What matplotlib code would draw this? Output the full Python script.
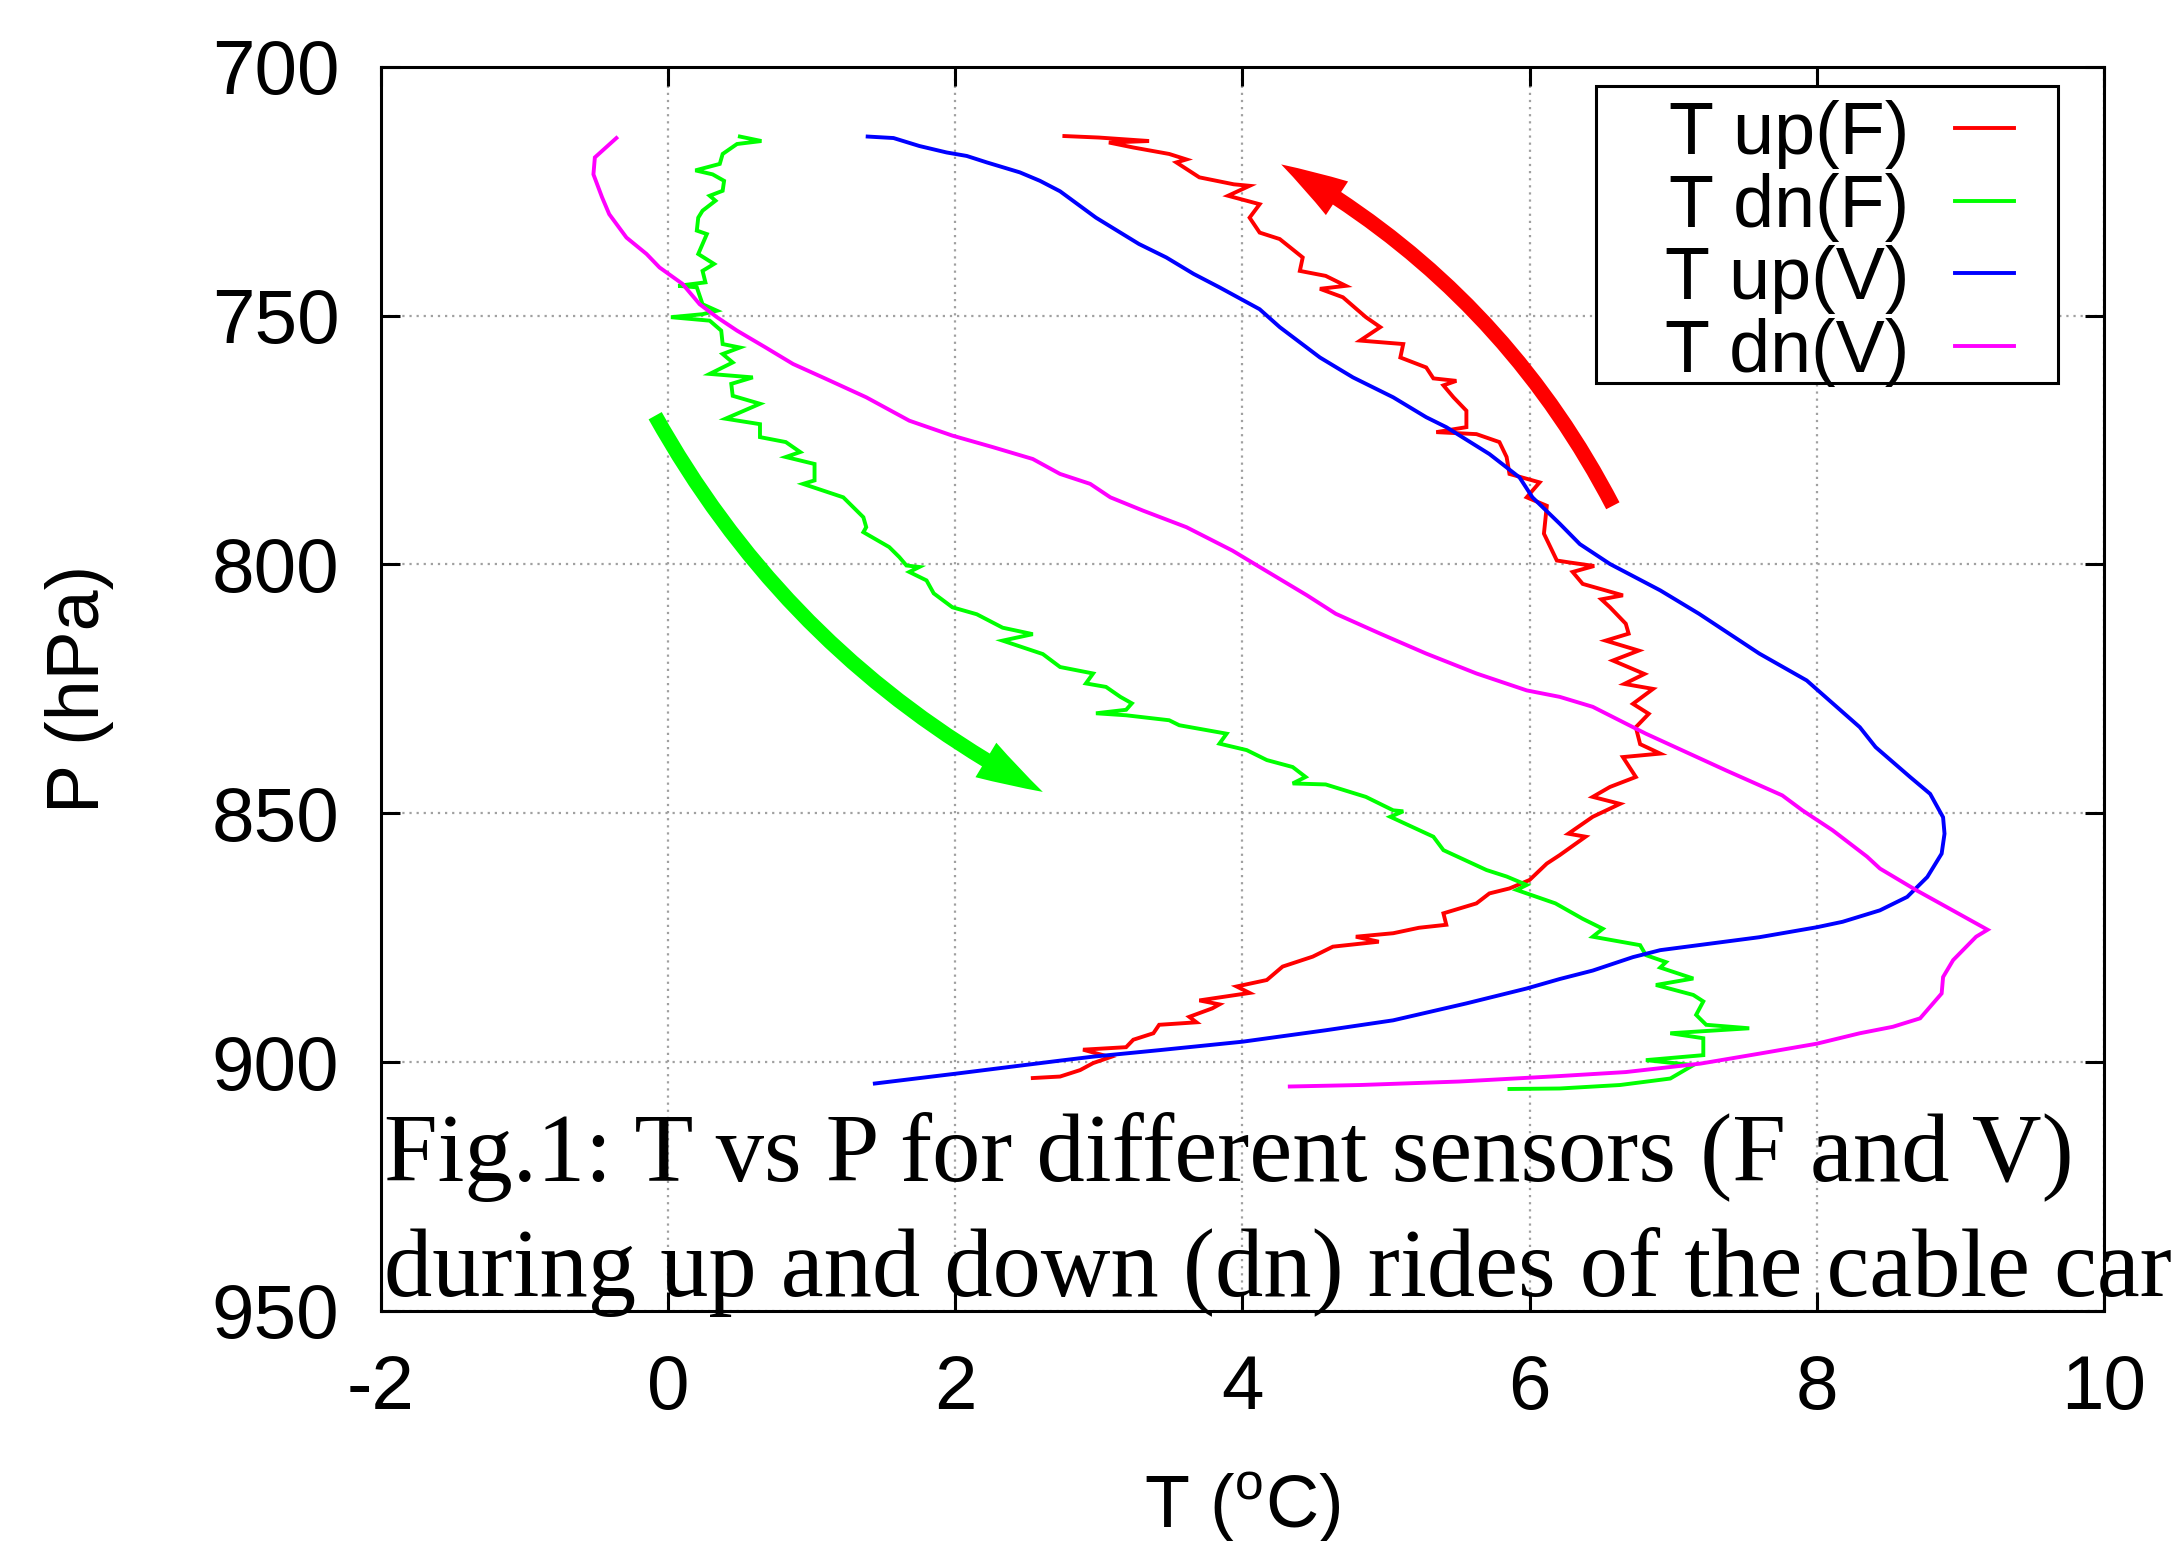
import matplotlib
matplotlib.use("Agg")
import matplotlib.pyplot as plt
from matplotlib.patches import FancyArrowPatch, ArrowStyle, Rectangle
from matplotlib.transforms import IdentityTransform
from matplotlib.font_manager import FontProperties

plt.rcParams['font.family'] = ['Liberation Sans', 'DejaVu Sans']
plt.rcParams['axes.unicode_minus'] = False
plt.rcParams['mathtext.fontset'] = 'custom'
plt.rcParams['mathtext.rm'] = 'Liberation Sans'

# =============================================================================
# DATA (temperature in degC, pressure in hPa)
# =============================================================================
t_up_f = [2.76, 3.00, 3.35, 3.07, 3.24, 3.49, 3.61, 3.54, 3.70, 3.94, 4.05, 3.90, 4.12, 4.05,
          4.12, 4.26, 4.42, 4.40, 4.58, 4.72, 4.54, 4.70, 4.86, 4.96, 4.82, 5.12, 5.10, 5.28,
          5.33, 5.49, 5.40, 5.47, 5.56, 5.56, 5.35, 5.63, 5.79, 5.84, 5.86, 6.07, 5.98, 6.12,
          6.10, 6.19, 6.28, 6.45, 6.30, 6.37, 6.65, 6.50, 6.56, 6.67, 6.69, 6.53, 6.76, 6.58,
          6.80, 6.66, 6.86, 6.72, 6.83, 6.74, 6.77, 6.91, 6.65, 6.74, 6.56, 6.44, 6.63, 6.44,
          6.27, 6.39, 6.21, 6.12, 6.00, 5.86, 5.72, 5.63, 5.40, 5.42, 5.23, 5.05, 4.79, 4.95,
          4.63, 4.49, 4.28, 4.17, 3.96, 4.05, 3.70, 3.84, 3.79, 3.63, 3.68, 3.42, 3.38, 3.24,
          3.19, 2.89, 3.08, 2.96, 2.87, 2.73, 2.54]
p_up_f = [713.9, 714.2, 714.9, 715.2, 716.2, 717.5, 718.6, 719.2, 722.2, 723.6, 723.9, 725.9,
          727.6, 730.3, 733.3, 734.6, 738.3, 741.0, 742.0, 744.0, 744.6, 746.3, 750.3, 752.3,
          755.0, 755.7, 758.4, 760.4, 762.6, 763.1, 764.0, 766.4, 769.1, 772.4, 773.4, 773.8,
          775.4, 778.4, 781.8, 783.5, 786.5, 788.2, 793.8, 799.2, 799.6, 800.3, 801.5, 803.9,
          806.2, 807.0, 808.6, 811.9, 813.9, 815.3, 817.3, 819.3, 822.0, 824.0, 825.0, 828.0,
          830.0, 832.7, 836.1, 838.0, 838.7, 842.7, 844.7, 846.7, 848.1, 850.7, 854.1, 854.7,
          858.4, 860.1, 863.4, 865.1, 866.1, 868.1, 870.1, 872.4, 873.0, 874.1, 874.8, 875.8,
          876.8, 878.8, 880.8, 883.5, 884.8, 886.1, 887.6, 888.4, 889.2, 890.9, 892.0, 892.5,
          894.2, 895.5, 897.0, 897.5, 899.0, 900.2, 901.6, 902.9, 903.2]

t_dn_f = [0.50, 0.65, 0.48, 0.38, 0.36, 0.19, 0.31, 0.39, 0.38, 0.29, 0.33, 0.24, 0.21, 0.20,
          0.27, 0.24, 0.21, 0.32, 0.24, 0.26, 0.07, 0.20, 0.24, 0.34, 0.24, 0.02, 0.29, 0.37,
          0.38, 0.50, 0.38, 0.45, 0.29, 0.59, 0.44, 0.45, 0.64, 0.40, 0.64, 0.64, 0.82, 0.92,
          0.82, 1.02, 1.02, 0.94, 1.22, 1.29, 1.36, 1.38, 1.36, 1.54, 1.61, 1.66, 1.75, 1.68,
          1.80, 1.85, 1.98, 2.15, 2.33, 2.54, 2.33, 2.61, 2.73, 2.96, 2.91, 3.05, 3.15, 3.23,
          3.19, 2.98, 3.19, 3.49, 3.56, 3.89, 3.84, 4.03, 4.17, 4.35, 4.44, 4.35, 4.58, 4.86,
          5.05, 5.12, 5.03, 5.33, 5.40, 5.70, 5.84, 5.98, 5.91, 6.18, 6.37, 6.51, 6.44, 6.77,
          6.81, 6.95, 6.91, 7.14, 6.88, 7.14, 7.21, 7.16, 7.23, 7.53, 6.98, 7.21, 7.21, 6.81,
          7.14, 6.98, 6.63, 6.21, 5.86]
p_dn_f = [714.0, 714.9, 715.5, 717.5, 719.5, 720.8, 721.6, 722.9, 724.9, 725.9, 726.9, 728.9,
          730.3, 732.9, 733.6, 735.6, 737.6, 739.6, 741.0, 743.3, 744.0, 744.3, 747.7, 749.0,
          749.7, 750.3, 751.0, 753.0, 755.7, 756.4, 757.7, 759.4, 761.7, 762.4, 763.7, 766.1,
          767.7, 770.7, 771.8, 774.4, 775.4, 777.4, 778.4, 779.8, 783.1, 783.8, 786.5, 788.5,
          790.5, 792.5, 793.5, 796.5, 798.5, 800.2, 800.5, 801.5, 803.2, 805.8, 808.6, 810.0,
          812.7, 814.0, 815.3, 818.0, 820.6, 821.9, 823.9, 824.6, 826.6, 827.9, 829.2, 829.9,
          830.3, 831.3, 832.3, 834.0, 836.0, 837.3, 839.3, 840.7, 842.7, 844.0, 844.2, 846.7,
          849.4, 849.6, 850.7, 854.7, 857.4, 861.4, 862.7, 864.4, 865.4, 868.1, 871.2, 873.2,
          874.8, 876.5, 878.5, 879.9, 881.0, 883.2, 884.5, 886.5, 887.8, 890.5, 892.5, 893.2,
          894.2, 895.2, 898.6, 899.6, 900.6, 903.3, 904.6, 905.3, 905.4]

t_up_v = [1.39, 1.57, 1.75, 1.94, 2.08, 2.22, 2.45, 2.59, 2.73, 2.98, 3.28, 3.47, 3.66, 3.84,
          4.12, 4.26, 4.54, 4.77, 5.05, 5.28, 5.42, 5.72, 5.93, 6.02, 6.21, 6.35, 6.56, 6.91,
          7.18, 7.60, 7.93, 8.30, 8.41, 8.65, 8.79, 8.88, 8.89, 8.87, 8.77, 8.63, 8.44, 8.18,
          8.00, 7.60, 6.91, 6.72, 6.44, 6.21, 5.98, 5.56, 5.05, 4.58, 4.00, 3.42, 2.96, 2.73,
          2.01, 1.44]
p_up_v = [714.0, 714.3, 715.9, 717.2, 717.9, 719.2, 721.2, 722.9, 725.0, 730.3, 735.6, 738.3,
          741.6, 744.3, 748.7, 752.3, 758.4, 762.4, 766.4, 770.4, 772.4, 777.8, 782.5, 786.5,
          791.8, 795.9, 799.9, 805.2, 809.9, 817.9, 823.3, 832.7, 836.7, 842.7, 846.1, 850.8,
          854.1, 858.1, 862.8, 866.8, 869.5, 871.8, 872.9, 874.9, 877.5, 878.9, 881.6, 883.3,
          885.2, 888.2, 891.6, 893.6, 895.9, 897.6, 898.9, 899.7, 902.3, 904.3]

t_dn_v = [-0.36, -0.51, -0.52, -0.46, -0.41, -0.29, -0.15, -0.06, 0.10, 0.22, 0.34, 0.48, 0.68,
          0.87, 1.10, 1.38, 1.68, 1.98, 2.26, 2.54, 2.73, 2.94, 3.08, 3.31, 3.61, 3.93, 4.12,
          4.45, 4.65, 4.96, 5.28, 5.63, 5.98, 6.21, 6.44, 6.81, 7.37, 7.76, 7.90, 8.11, 8.35,
          8.44, 8.69, 9.19, 9.11, 8.95, 8.88, 8.87, 8.72, 8.53, 8.30, 8.00, 7.60, 7.19, 6.67,
          6.21, 5.51, 4.82, 4.33]
p_dn_v = [714.3, 718.2, 721.6, 726.2, 729.6, 734.3, 737.6, 740.3, 743.6, 747.7, 750.3, 753.0,
          756.4, 759.7, 762.7, 766.4, 771.1, 774.1, 776.4, 778.8, 781.8, 783.8, 786.5, 789.2,
          792.5, 797.2, 800.5, 806.2, 809.9, 813.9, 817.9, 821.9, 825.3, 826.6, 828.6, 834.0,
          841.4, 846.4, 849.4, 853.4, 858.7, 861.1, 865.4, 873.4, 874.8, 879.5, 882.9, 886.2,
          891.2, 892.9, 894.2, 896.3, 898.3, 900.3, 902.0, 902.8, 903.9, 904.6, 904.9]

labels = ['T up(F)', 'T dn(F)', 'T up(V)', 'T dn(V)']
colors = ['#ff0000', '#00ff00', '#0000ff', '#ff00ff']

x_ticks = [-2, 0, 2, 4, 6, 8, 10]
y_ticks = [700, 750, 800, 850, 900, 950]

# direction arrows (tail, head) in data coords
up_arrow = [(6.58, 788.2), (4.27, 719.6)]
dn_arrow = [(-0.09, 770.1), (2.61, 845.7)]

caption = ['Fig.1: T vs P for different sensors (F and V)',
           'during up and down (dn) rides of the cable car']

# =============================================================================
# PLOT
# =============================================================================
fig = plt.figure(figsize=(21.73, 15.41), dpi=100)
ax = fig.add_axes([0.1753, 0.1493, 0.7929, 0.8073])

series = [(t_up_f, p_up_f), (t_dn_f, p_dn_f), (t_up_v, p_up_v), (t_dn_v, p_dn_v)]
for (t, p), lab, col in zip(series, labels, colors):
    ax.plot(t, p, color=col, lw=2.8, label=lab, solid_joinstyle='miter')

ax.set_xlim(-2, 10)
ax.set_ylim(950, 700)
ax.set_xticks(x_ticks)
ax.set_yticks(y_ticks)
ax.grid(True, color='#a0a0a0', linestyle=(0, (1, 2.2)), linewidth=1.6)
for s in ax.spines.values():
    s.set_linewidth(2.2)
ax.tick_params(direction='in', length=14, width=2.2, top=True, right=True, labelsize=55)
ax.tick_params(axis='x', pad=31)
ax.tick_params(axis='y', pad=30)

ax.set_xlabel(r'T ($^{\rm o}$C)', fontsize=53)
ax.xaxis.label.set_va('center')
ax.xaxis.set_label_coords(0.5, -0.158)
ax.set_ylabel('P (hPa)', fontsize=53)
ax.yaxis.label.set_va('center')
ax.yaxis.set_label_coords(-0.175, 0.5)

# gnuplot-style key: text first, sample line after, tight rows
leg = ax.legend(loc='upper right', bbox_to_anchor=(0.9478, 0.9735), borderaxespad=0,
                frameon=False, markerfirst=False, handlelength=0.8, handletextpad=0.62,
                labelspacing=0.05, borderpad=0,
                prop=FontProperties(family='Liberation Sans', size=53))

arrow_style = ArrowStyle.Simple(head_length=47, head_width=29, tail_width=10.8)
for (a, b), col, rad in [(up_arrow, '#ff0000', 0.15), (dn_arrow, '#00ff00', 0.15)]:
    arr = FancyArrowPatch(posA=a, posB=b, connectionstyle=f'arc3,rad={rad}',
                          arrowstyle=arrow_style, mutation_scale=1, color=col, lw=0,
                          shrinkA=0, shrinkB=0, zorder=4)
    ax.add_patch(arr)

fig.text(384 / 2173, 1 - 1181 / 1541, caption[0], family='Liberation Serif', size=69.5,
         ha='left', va='baseline')
fig.text(384 / 2173, 1 - 1296 / 1541, caption[1], family='Liberation Serif', size=69.5,
         ha='left', va='baseline')

# key box drawn around the laid-out legend (wider on the text side, like gnuplot)
fig.canvas.draw()
bb = leg.get_window_extent()
pad_l, pad_r, pad_t, pad_b = 69, 44, 14, -4
box = Rectangle((bb.x0 - pad_l, bb.y0 - pad_b), bb.width + pad_l + pad_r,
                bb.height + pad_t + pad_b, transform=IdentityTransform(),
                facecolor='white', edgecolor='black', lw=2.2, zorder=4.5, clip_on=False)
ax.add_patch(box)

fig.savefig('out.png', dpi=100)
